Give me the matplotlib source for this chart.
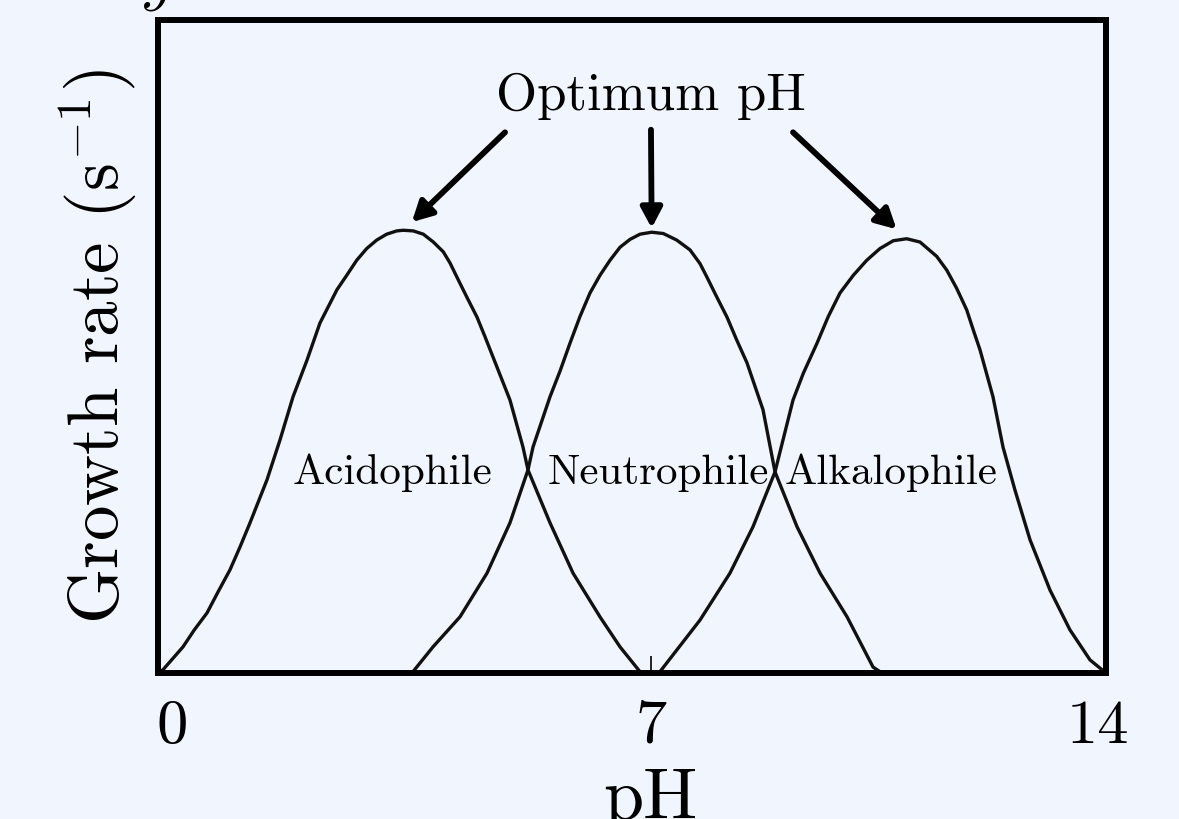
import matplotlib
matplotlib.use("Agg")
import matplotlib.pyplot as plt
import numpy as np

# Data (pH, relative growth rate)
acid_ph = [0.0, 0.074, 0.369, 0.536, 0.724, 0.891, 1.063, 1.211, 1.359, 1.610,
           1.802, 1.994, 2.200, 2.392, 2.643, 2.787, 2.934, 3.082, 3.230, 3.377,
           3.525, 3.623, 3.770, 3.918, 4.066, 4.213, 4.312, 4.411, 4.559, 4.711,
           4.829, 4.947, 5.198, 5.390, 5.464, 5.789, 6.129, 6.527, 6.823, 7.118]
acid_rate = [0.0, 0.005, 0.040, 0.066, 0.092, 0.125, 0.158, 0.193, 0.230, 0.296,
             0.357, 0.423, 0.479, 0.536, 0.587, 0.609, 0.632, 0.650, 0.663, 0.672,
             0.677, 0.678, 0.677, 0.672, 0.660, 0.645, 0.628, 0.607, 0.576, 0.545,
             0.515, 0.484, 0.418, 0.346, 0.311, 0.230, 0.153, 0.086, 0.040, 0.002]

neutro_ph = [3.766, 4.061, 4.460, 4.859, 5.198, 5.464, 5.538, 5.789, 5.936, 6.084,
             6.232, 6.380, 6.527, 6.675, 6.823, 6.970, 7.118, 7.291, 7.462, 7.660,
             7.856, 8.004, 8.103, 8.251, 8.403, 8.546, 8.698, 8.935, 9.112, 9.437,
             9.777, 10.176, 10.560, 10.662]
neutro_rate = [0.002, 0.040, 0.086, 0.153, 0.230, 0.311, 0.346, 0.423, 0.462, 0.505,
               0.546, 0.582, 0.609, 0.632, 0.652, 0.664, 0.672, 0.675, 0.673, 0.663,
               0.648, 0.627, 0.607, 0.576, 0.545, 0.510, 0.475, 0.403, 0.308, 0.224,
               0.153, 0.086, 0.009, 0.002]

alkalo_ph = [7.413, 8.004, 8.447, 8.787, 9.112, 9.378, 9.530, 9.732, 9.899, 10.072,
             10.268, 10.466, 10.662, 10.859, 11.057, 11.253, 11.500, 11.648, 11.795,
             11.943, 12.041, 12.139, 12.331, 12.479, 12.656, 12.878, 13.173, 13.468,
             13.764, 14.0]
alkalo_rate = [0.002, 0.081, 0.153, 0.224, 0.308, 0.418, 0.459, 0.505, 0.546, 0.582,
               0.609, 0.632, 0.650, 0.662, 0.665, 0.660, 0.638, 0.617, 0.589,
               0.556, 0.525, 0.495, 0.423, 0.346, 0.280, 0.204, 0.127, 0.066,
               0.020, 0.0]

curve_names = ["Acidophile", "Neutrophile", "Alkalophile"]
name_x = [3.456, 7.384, 10.825]

tick_pos = [0.21, 7.28, 13.88]
tick_labels = ["0", "7", "14"]

plt.rcParams["font.family"] = "serif"
plt.rcParams["font.serif"] = ["cmr10"]
plt.rcParams["mathtext.fontset"] = "cm"
plt.rcParams["axes.formatter.use_mathtext"] = True

bg = "#f1f5fe"
fig = plt.figure(figsize=(11.79, 8.19), dpi=100, facecolor=bg)
ax = fig.add_axes([158 / 1179, 146 / 819, 948 / 1179, 653 / 819])
ax.set_facecolor(bg)

curves = [(acid_ph, acid_rate), (neutro_ph, neutro_rate), (alkalo_ph, alkalo_rate)]
for xs, ys in curves:
    ax.plot(xs, ys, color="#111111", lw=2.4, solid_joinstyle="round",
            solid_capstyle="round")

# species names
for name, x in zip(curve_names, name_x):
    ax.text(x, 0.289, name, fontsize=31, ha="center", va="baseline")

# optimum pH label with arrows to each peak
ax.text(7.28, 0.862, "Optimum pH", fontsize=38, ha="center", va="baseline")
starts = [(5.125, 0.828), (7.28, 0.832), (9.378, 0.828)]
shrink = [8.5, 3.0, 10.0]
for (xs, ys), st, sh in zip(curves, starts, shrink):
    i = int(np.argmax(ys))
    ax.annotate("", xy=(xs[i], ys[i]), xytext=st,
                arrowprops=dict(arrowstyle="-|>,head_length=0.6,head_width=0.32",
                                mutation_scale=20, lw=4.2, color="black",
                                shrinkA=0, shrinkB=sh))

ax.set_xlim(0, 14)
ax.set_ylim(0, 1)
ax.set_yticks([])
ax.set_xticks(tick_pos, tick_labels)
ax.tick_params(axis="x", direction="in", length=12, width=1.2, pad=19, labelsize=45)
majors = ax.xaxis.get_major_ticks()
majors[0].tick1line.set_visible(False)
majors[2].tick1line.set_visible(False)

for s in ax.spines.values():
    s.set_linewidth(4.3)

ax.set_ylabel(r"Growth rate (s$^{-1}$)", fontsize=51)
ax.yaxis.set_label_coords(-0.02, 0.5)
ax.set_xlabel("pH", fontsize=52)
ax.xaxis.set_label_coords(0.519, -0.145)

# cut-off glyph at the very top-left
fig.text(0.119, 1.0024, r"$y$", fontsize=45, ha="left", va="baseline")

fig.savefig("out.png", dpi=100, facecolor=bg)
